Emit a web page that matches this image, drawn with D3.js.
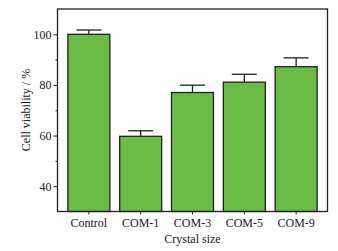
<!DOCTYPE html>
<html lang="en">
<head>
<meta charset="UTF-8"/>
<title>Cell viability bar chart</title>
<script src="https://d3js.org/d3.v7.min.js"></script>
<style>
	body { margin: 0; background: #fdfdfd; }
	svg { display: block; font-family: "Liberation Serif", "DejaVu Serif", serif; }
	.axis path, .axis line { stroke: #222; }
	.axis text { font-size: 12px; fill: #222; font-family: "Liberation Serif", serif; }
</style>
</head>
<body>
<div id="chart">
<script>
	// data
	var categories = ["Control", "COM-1", "COM-3", "COM-5", "COM-9"];
	var viability = [100, 59.7, 77, 81.1, 87.2];
	var errors = [1.7, 2.2, 2.9, 3.1, 3.5];
	var yTicks = [40, 60, 80, 100];
	var yMinor = [50, 70, 90];

	var w = 338, h = 251;
	// note: "top" clashes with window.top, so use plotTop
	var plotLeft = 57.5, plotRight = 327.5, plotTop = 9, plotBottom = 211.5;

	var svg = d3.select("#chart").append("svg")
		.attr("width", w)
		.attr("height", h);

	var xScale = d3.scaleBand()
		.domain(categories)
		.range([plotLeft, plotRight])
		.paddingInner(0.19)
		.paddingOuter(0.2);

	var yScale = d3.scaleLinear()
		.domain([30, 110])
		.range([plotBottom, plotTop]);

	// bars
	svg.selectAll("rect.bar")
		.data(viability)
		.enter()
		.append("rect")
		.attr("class", "bar")
		.attr("x", function(d, i) { return xScale(categories[i]); })
		.attr("y", function(d) { return yScale(d); })
		.attr("width", xScale.bandwidth())
		.attr("height", function(d) { return plotBottom - yScale(d); })
		.attr("fill", "#6bbb47")
		.attr("stroke", "#222")
		.attr("stroke-width", 1.3);

	// upper error bars
	var capW = 25;
	var eb = svg.selectAll("g.err")
		.data(viability)
		.enter()
		.append("g")
		.attr("class", "err")
		.attr("stroke", "#222")
		.attr("stroke-width", 1.3);
	eb.append("line")
		.attr("x1", function(d, i) { return xScale(categories[i]) + xScale.bandwidth() / 2; })
		.attr("x2", function(d, i) { return xScale(categories[i]) + xScale.bandwidth() / 2; })
		.attr("y1", function(d) { return yScale(d); })
		.attr("y2", function(d, i) { return yScale(d + errors[i]); });
	eb.append("line")
		.attr("x1", function(d, i) { return xScale(categories[i]) + xScale.bandwidth() / 2 - capW / 2; })
		.attr("x2", function(d, i) { return xScale(categories[i]) + xScale.bandwidth() / 2 + capW / 2; })
		.attr("y1", function(d, i) { return yScale(d + errors[i]); })
		.attr("y2", function(d, i) { return yScale(d + errors[i]); });

	// frame
	svg.append("rect")
		.attr("x", plotLeft)
		.attr("y", plotTop)
		.attr("width", plotRight - plotLeft)
		.attr("height", plotBottom - plotTop)
		.attr("fill", "none")
		.attr("stroke", "#222")
		.attr("stroke-width", 1.3);

	// axes
	var xAxis = d3.axisBottom(xScale).tickSize(3).tickSizeOuter(0).tickPadding(4);
	svg.append("g")
		.attr("class", "axis")
		.attr("transform", "translate(0," + plotBottom + ")")
		.call(xAxis)
		.select(".domain").remove();

	var yAxis = d3.axisLeft(yScale).tickValues(yTicks).tickSize(4).tickSizeOuter(0).tickPadding(2);
	svg.append("g")
		.attr("class", "axis")
		.attr("transform", "translate(" + plotLeft + ",0)")
		.call(yAxis)
		.select(".domain").remove();

	var yAxisMinor = d3.axisLeft(yScale).tickValues(yMinor).tickSize(2).tickFormat("");
	svg.append("g")
		.attr("class", "axis")
		.attr("transform", "translate(" + plotLeft + ",0)")
		.call(yAxisMinor)
		.select(".domain").remove();

	// axis titles
	svg.append("text")
		.attr("x", (plotLeft + plotRight) / 2)
		.attr("y", 243)
		.attr("text-anchor", "middle")
		.attr("font-size", "12px")
		.attr("fill", "#222")
		.text("Crystal size");

	svg.append("text")
		.attr("transform", "rotate(-90)")
		.attr("x", -110)
		.attr("y", 30)
		.attr("text-anchor", "middle")
		.attr("font-size", "12px")
		.attr("fill", "#222")
		.text("Cell viability / %");
</script>
</div>
</body>
</html>
